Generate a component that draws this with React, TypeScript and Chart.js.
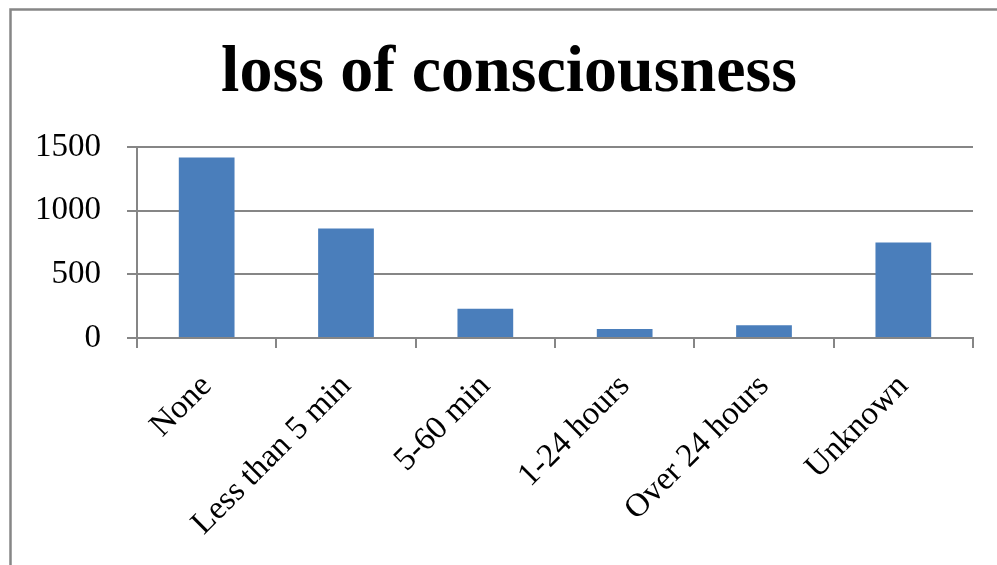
import React, { useEffect, useRef } from "react";
import { Chart, registerables } from "chart.js";

Chart.register(...registerables);

const categories = ["None", "Less than 5 min", "5-60 min", "1-24 hours", "Over 24 hours", "Unknown"];
const values = [1420, 860, 230, 70, 100, 750];
const yTicks = [0, 500, 1000, 1500];
const titleText = "loss of consciousness";

const GRAY = "#868686";
const SERIF = "'Liberation Serif', 'DejaVu Serif', serif";

const framePlugin = {
  id: "frame",
  beforeDraw(chart: any) {
    const ctx = chart.ctx;
    ctx.save();
    ctx.fillStyle = "#ffffff";
    ctx.fillRect(0, 0, chart.width, chart.height);
    ctx.strokeStyle = GRAY;
    ctx.lineWidth = 2.5;
    ctx.strokeRect(10.5, 9.5, 3000, 3000);
    ctx.restore();
  },
};

export default function App() {
  const ref = useRef<HTMLCanvasElement | null>(null);
  useEffect(() => {
    if (!ref.current) return;
    const chart = new Chart(ref.current, {
      type: "bar",
      data: {
        labels: categories,
        datasets: [
          {
            data: values,
            backgroundColor: "#4a7ebb",
            borderWidth: 0,
            barPercentage: 0.4,
            categoryPercentage: 1,
          },
        ],
      },
      options: {
        responsive: false,
        animation: false,
        devicePixelRatio: 1,
        layout: { padding: { left: 0, right: 0, top: 0, bottom: 0 } },
        plugins: {
          legend: { display: false },
          tooltip: { enabled: false },
          title: {
            display: true,
            text: titleText,
            color: "#000000",
            font: { family: SERIF, size: 66, weight: "bold", lineHeight: 1.2 },
            padding: { top: 34, bottom: 34 },
          },
        },
        scales: {
          x: {
            offset: true,
            grid: {
              display: true,
              drawOnChartArea: false,
              drawTicks: true,
              tickLength: 10,
              color: GRAY,
              lineWidth: 2,
              offset: true,
            },
            border: { display: true, color: GRAY, width: 2 },
            ticks: {
              autoSkip: false,
              maxRotation: 45,
              minRotation: 45,
              padding: 19,
              color: "#000000",
              font: { family: SERIF, size: 33 },
            },
            afterFit: (scale: any) => {
              scale.height = 565 - 338;
            },
          },
          y: {
            min: 0,
            max: 1500,
            afterBuildTicks: (scale: any) => {
              scale.ticks = yTicks.map((v) => ({ value: v }));
            },
            grid: {
              color: GRAY,
              lineWidth: 2,
              tickLength: 10,
              drawTicks: true,
            },
            border: { display: true, color: GRAY, width: 2 },
            ticks: {
              padding: 26,
              color: "#000000",
              font: { family: SERIF, size: 33 },
              callback: (v: any) => String(v),
            },
            afterFit: (scale: any) => {
              scale.width = 137;
            },
          },
          spacer: {
            type: "linear",
            position: "right",
            display: true,
            min: 0,
            max: 1500,
            grid: { display: false, drawTicks: false },
            border: { display: false },
            ticks: { display: false },
            afterFit: (scale: any) => {
              scale.width = 1018 - 973;
            },
          },
        },
      },
      plugins: [framePlugin],
    });
    return () => chart.destroy();
  }, []);
  return (
    <div style={{ position: "absolute", left: 0, top: 0, width: 997, height: 565, overflow: "hidden" }}>
      <canvas ref={ref} width={1018} height={565} style={{ display: "block" }} />
    </div>
  );
}
